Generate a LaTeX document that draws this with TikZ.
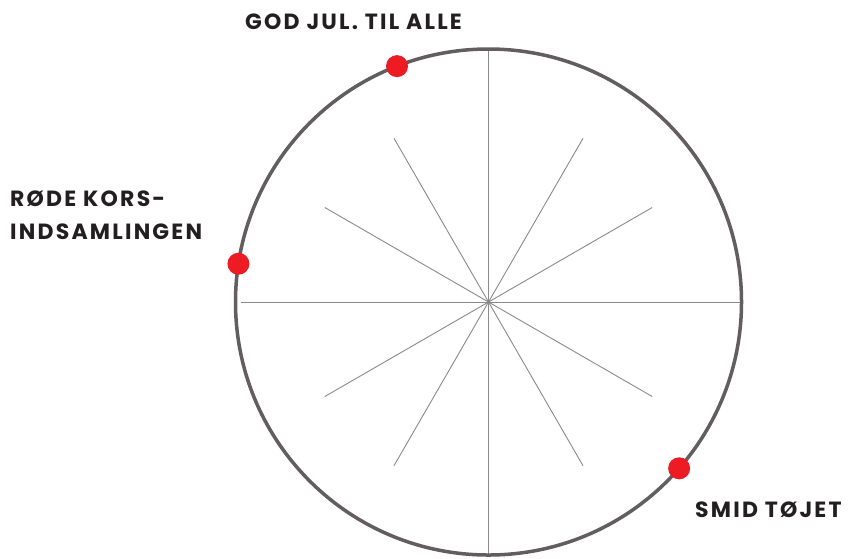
\documentclass[tikz,border=0pt]{standalone}
\usepackage{fontspec}
\setmainfont{Poppins}[LetterSpace=10]
\usetikzlibrary{positioning,calc}
\definecolor{rimgray}{HTML}{625D5F}
\definecolor{spokegray}{HTML}{8A8A8A}
\definecolor{dotred}{HTML}{ED1C24}
\definecolor{inkblack}{HTML}{231F20}

\begin{document}
\begin{tikzpicture}[x=1pt,y=-1pt, every node/.style={inner sep=0pt},
  label/.style={anchor=base west,font=\bfseries\fontsize{22}{33}\selectfont,text=inkblack,align=left},
  dot/.style={circle,fill=dotred,minimum size=22pt}]
\useasboundingbox (0,0) rectangle (850,558);
\coordinate (c) at (488.5,302);
% spokes
\foreach \a in {30,60,120,150,210,240,300,330} \draw[spokegray,line width=0.9pt] (c)--++(\a:189 and -189);
\draw[spokegray,line width=0.9pt] (241,302)--(741,302);
\draw[spokegray,line width=0.9pt] (488.5,48)--(488.5,555);
\draw[rimgray,line width=3.5pt] (c) circle (253);
\node[dot] (d1) at ($(c)+(111.2:253 and -253)$) {};
\node[dot] (d2) at ($(c)+(171.3:253 and -253)$) {};
\node[dot] (d3) at ($(c)+(-41.1:253 and -253)$) {};
\node[label] (t1) at (245,29) {GOD JUL. TIL ALLE};
\node[label,anchor=north west] (t2) at (10,191) {RØDE KORS-\\INDSAMLINGEN};
\node[label] (t3) at (695,517) {SMID TØJET};
\end{tikzpicture}
\end{document}
